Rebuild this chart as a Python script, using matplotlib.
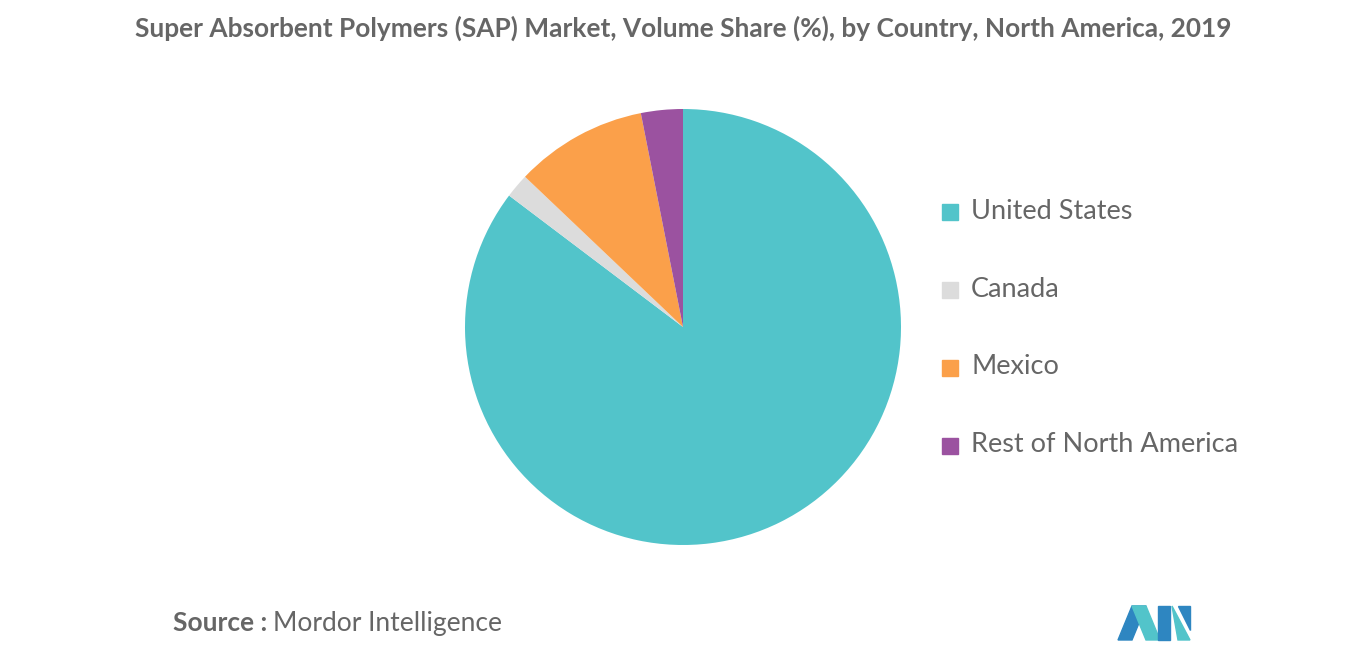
import matplotlib
matplotlib.use("Agg")
import matplotlib.pyplot as plt
from matplotlib.patches import Polygon

categories = ["United States", "Canada", "Mexico", "Rest of North America"]
shares = [85.3, 1.8, 9.8, 3.1]
colors = ["#52C4CA", "#DCDCDC", "#FBA04A", "#9B52A0"]
title = "Super Absorbent Polymers (SAP) Market, Volume Share (%), by Country, North America, 2019"

fig = plt.figure(figsize=(13.66, 6.55), dpi=100)
ax = fig.add_axes([683/1366 - 218/1366, 1 - (327+218)/655, 436/1366, 436/655])
ax.pie(shares, colors=colors, startangle=90, counterclock=False,
       wedgeprops=dict(linewidth=0))
ax.set_xlim(-1, 1)
ax.set_ylim(-1, 1)
ax.set_aspect("equal")

fig.text(0.5, 1 - 28/655, title, ha="center", va="center", fontsize=18.9,
         color="#666666", fontweight="bold", family="Lato")

for i, (c, col) in enumerate(zip(categories, colors)):
    y = 1 - (212 + 78*i)/655
    fig.patches.append(plt.Rectangle((942/1366, y - 8/655), 16/1366, 16/655,
                                     transform=fig.transFigure, color=col))
    fig.text(971/1366, y + 1/655, c, va="center", ha="left", fontsize=19.5,
             color="#666666", family="Lato")

fig.text(173/1366, 1 - 623/655, "Source :", va="center", ha="left", fontsize=19,
         color="#666666", fontweight="bold", family="Lato")
fig.text(273/1366, 1 - 623/655, "Mordor Intelligence", va="center", ha="left",
         fontsize=19, color="#666666", family="Lato")

def px(pts):
    return [(x/1366, 1 - y/655) for x, y in pts]
for pts, col in [
    ([(1118,640),(1132,606),(1146,606),(1132,640)], "#2E86C1"),
    ([(1132,606),(1146,606),(1160,640),(1146,640)], "#52C4CA"),
    ([(1158,640),(1158,606),(1170,606),(1170,640)], "#2E86C1"),
    ([(1172,606),(1190,640),(1178,640)], "#52C4CA"),
    ([(1178,606),(1190,606),(1190,630)], "#2E86C1"),
]:
    fig.patches.append(Polygon(px(pts), closed=True, transform=fig.transFigure,
                               color=col))

fig.savefig("out.png", dpi=100, facecolor="white")
